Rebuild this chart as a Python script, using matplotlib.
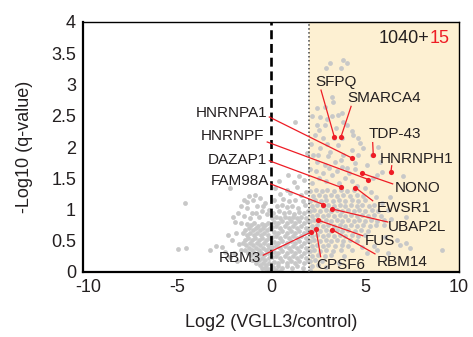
import matplotlib
matplotlib.use("Agg")
import matplotlib.pyplot as plt
from matplotlib.transforms import ScaledTranslation

plt.rcParams['font.family'] = ['Liberation Sans', 'DejaVu Sans']

TXT = '#231f20'
RED = '#ee1c25'

# grey cloud
cloud_left = [
    (-4.57, 1.10), (-4.93, 0.37), (-4.52, 0.38), (-3.24, 0.35), (-2.90, 0.41), (-2.62, 0.40),
    (-2.18, 1.34), (-2.00, 0.88), (-1.91, 0.80), (-1.75, 0.95), (-1.60, 1.05), (-1.45, 1.15),
    (-1.29, 1.12), (-1.30, 1.02), (-1.15, 1.22), (-1.00, 0.95), (-0.94, 1.15), (-0.85, 1.23),
    (-0.75, 1.05), (-0.59, 1.18), (-0.50, 0.98), (-0.41, 1.06), (-0.32, 1.10), (-0.22, 0.93),
    (-0.62, 0.88), (-1.12, 0.86), (-1.42, 0.90), (-0.10, 1.00), (-0.80, 0.95), (-1.60, 0.78),
    (-2.30, 0.60), (-2.10, 0.52), (-1.85, 0.62), (-2.45, 0.32), (-1.72, 0.45), (-2.20, 0.24),
    (-1.95, 0.30), (-1.60, 0.35), (-1.80, 0.18),
    (-1.28, 0.77), (-1.08, 0.75), (-0.88, 0.78), (-0.70, 0.74), (-0.50, 0.77), (-0.32, 0.75), (-0.14, 0.78),
    (-1.36, 0.68), (-1.18, 0.70), (-0.98, 0.67), (-0.80, 0.70), (-0.60, 0.68), (-0.42, 0.71), (-0.22, 0.68), (-0.06, 0.70),
    (-1.48, 0.62), (-1.30, 0.60), (-1.10, 0.62), (-0.92, 0.59), (-0.74, 0.62), (-0.55, 0.60), (-0.36, 0.63), (-0.16, 0.60),
    (-1.40, 0.52), (-1.22, 0.54), (-1.03, 0.52), (-0.84, 0.55), (-0.66, 0.52), (-0.46, 0.54), (-0.27, 0.51), (-0.08, 0.54),
    (-1.50, 0.46), (-1.32, 0.44), (-1.14, 0.46), (-0.95, 0.43), (-0.76, 0.46), (-0.56, 0.44), (-0.37, 0.47), (-0.18, 0.44),
    (-1.36, 0.36), (-1.18, 0.38), (-1.00, 0.36), (-0.82, 0.39), (-0.64, 0.36), (-0.45, 0.38), (-0.27, 0.35), (-0.10, 0.38),
    (-1.24, 0.30), (-1.06, 0.28), (-0.88, 0.30), (-0.70, 0.27), (-0.52, 0.30), (-0.35, 0.28), (-0.18, 0.31),
    (-1.02, 0.20), (-0.84, 0.22), (-0.66, 0.20), (-0.48, 0.23), (-0.30, 0.20), (-0.12, 0.22),
    (-0.78, 0.14), (-0.60, 0.12), (-0.42, 0.14), (-0.25, 0.11), (-0.08, 0.14),
    (-0.48, 0.06), (-0.30, 0.07), (-0.14, 0.05), (-0.04, 0.02),
]

cloud_mid = [
    (0.90, 1.56), (1.50, 1.54), (0.40, 1.46), (1.20, 1.44), (1.75, 1.47), (0.20, 1.35), (0.83, 1.31),
    (1.40, 1.36), (0.50, 1.25), (1.00, 1.27), (1.60, 1.24), (1.85, 1.28), (0.15, 1.15), (0.65, 1.17),
    (0.95, 1.13), (1.30, 1.16), (1.70, 1.14), (0.30, 1.05), (0.60, 1.07), (0.85, 1.04), (1.10, 1.06),
    (1.45, 1.03), (1.80, 1.07), (0.10, 0.95), (0.40, 0.97), (0.70, 0.94), (0.95, 0.96), (1.20, 0.93),
    (1.50, 0.96), (1.75, 0.94), (1.95, 0.97), (1.90, 1.90), (1.28, 2.40),
    (0.05, 0.87), (0.27, 0.88), (0.50, 0.86), (0.72, 0.88), (0.95, 0.86), (1.17, 0.88), (1.40, 0.86), (1.62, 0.88), (1.85, 0.86),
    (0.16, 0.80), (0.38, 0.79), (0.60, 0.81), (0.83, 0.79), (1.06, 0.81), (1.28, 0.79), (1.50, 0.81), (1.73, 0.79), (1.95, 0.81),
    (0.05, 0.72), (0.27, 0.73), (0.50, 0.71), (0.72, 0.73), (0.95, 0.71), (1.17, 0.73), (1.40, 0.71), (1.62, 0.73), (1.85, 0.71),
    (0.16, 0.64), (0.38, 0.63), (0.60, 0.65), (0.83, 0.63), (1.06, 0.65), (1.28, 0.63), (1.50, 0.65), (1.73, 0.63), (1.95, 0.65),
    (0.05, 0.56), (0.27, 0.57), (0.50, 0.55), (0.72, 0.57), (0.95, 0.55), (1.17, 0.57), (1.40, 0.55), (1.62, 0.57), (1.85, 0.55),
    (0.16, 0.48), (0.38, 0.47), (0.60, 0.49), (0.83, 0.47), (1.06, 0.49), (1.28, 0.47), (1.50, 0.49), (1.73, 0.47), (1.95, 0.49),
    (0.05, 0.40), (0.27, 0.41), (0.50, 0.39), (0.72, 0.41), (0.95, 0.39), (1.17, 0.41), (1.40, 0.39), (1.62, 0.41), (1.85, 0.39),
    (0.16, 0.32), (0.38, 0.31), (0.60, 0.33), (0.83, 0.31), (1.06, 0.33), (1.28, 0.31), (1.50, 0.33), (1.73, 0.31), (1.95, 0.33),
    (0.05, 0.24), (0.27, 0.25), (0.50, 0.23), (0.72, 0.25), (0.95, 0.23), (1.17, 0.25), (1.40, 0.23), (1.62, 0.25), (1.85, 0.23),
    (0.16, 0.16), (0.38, 0.15), (0.60, 0.17), (0.83, 0.15), (1.06, 0.17), (1.28, 0.15), (1.50, 0.17), (1.73, 0.15), (1.95, 0.17),
    (0.10, 0.08), (0.35, 0.09), (0.60, 0.07), (0.85, 0.09), (1.10, 0.07), (1.40, 0.09), (1.70, 0.07),
    (0.05, 0.02), (0.25, 0.03), (0.50, 0.02),
]

cloud_right = [
    (2.10, 1.30), (2.40, 1.31), (2.70, 1.29), (3.00, 1.31), (3.35, 1.29), (3.70, 1.31), (4.05, 1.29), (4.40, 1.31),
    (2.25, 1.22), (2.55, 1.23), (2.85, 1.21), (3.20, 1.23), (3.50, 1.21), (3.85, 1.23), (4.20, 1.21), (4.60, 1.23), (4.90, 1.21),
    (2.05, 1.14), (2.35, 1.15), (2.65, 1.13), (2.95, 1.15), (3.30, 1.13), (3.60, 1.15), (3.95, 1.13), (4.30, 1.15), (4.65, 1.13), (5.00, 1.15),
    (2.20, 1.06), (2.45, 1.07), (2.75, 1.05), (3.05, 1.07), (3.35, 1.05), (3.65, 1.07), (3.95, 1.05), (4.25, 1.07),
    (4.55, 1.05), (4.85, 1.07), (5.20, 1.05), (5.50, 1.07),
    (2.05, 0.98), (2.30, 0.99), (2.60, 0.97), (2.90, 0.99), (3.20, 0.97), (3.50, 0.99), (3.80, 0.97), (4.10, 0.99),
    (4.40, 0.97), (4.70, 0.99), (5.00, 0.97), (5.35, 0.99), (5.70, 0.97),
    (2.20, 0.90), (2.45, 0.91), (2.75, 0.89), (3.05, 0.91), (3.35, 0.89), (3.65, 0.91), (3.95, 0.89), (4.25, 0.91),
    (4.55, 0.89), (4.85, 0.91), (5.15, 0.89), (5.50, 0.91), (5.85, 0.89),
    (2.05, 0.82), (2.30, 0.83), (2.60, 0.81), (2.90, 0.83), (3.20, 0.81), (3.50, 0.83), (3.80, 0.81), (4.10, 0.83),
    (4.40, 0.81), (4.70, 0.83), (5.00, 0.81), (5.30, 0.83), (5.65, 0.81), (6.00, 0.83),
    (2.20, 0.74), (2.45, 0.75), (2.75, 0.73), (3.05, 0.75), (3.35, 0.73), (3.65, 0.75), (3.95, 0.73), (4.25, 0.75),
    (4.55, 0.73), (4.90, 0.75), (5.25, 0.73), (5.60, 0.75),
    (2.05, 0.66), (2.30, 0.67), (2.60, 0.65), (2.90, 0.67), (3.20, 0.65), (3.50, 0.67), (3.80, 0.65), (4.10, 0.67),
    (4.45, 0.65), (4.80, 0.67), (5.15, 0.65),
    (2.20, 0.58), (2.45, 0.59), (2.75, 0.57), (3.05, 0.59), (3.35, 0.57), (3.65, 0.59), (3.95, 0.57), (4.30, 0.59),
    (4.65, 0.57), (5.00, 0.59),
    (2.05, 0.50), (2.30, 0.51), (2.60, 0.49), (2.90, 0.51), (3.20, 0.49), (3.50, 0.51), (3.85, 0.49), (4.20, 0.51), (4.55, 0.49),
    (2.20, 0.42), (2.45, 0.43), (2.75, 0.41), (3.05, 0.43), (3.40, 0.41), (3.75, 0.43), (4.10, 0.41),
    (2.05, 0.34), (2.30, 0.35), (2.60, 0.33), (2.95, 0.35), (3.30, 0.33), (3.70, 0.35),
    (2.20, 0.26), (2.50, 0.27), (2.85, 0.25), (3.20, 0.27),
    (2.05, 0.18), (2.35, 0.19), (2.70, 0.17),
    (2.20, 0.10), (2.50, 0.11), (2.10, 0.04),
]

cloud_upper = [
    (3.81, 3.40), (3.14, 3.35), (4.03, 3.34), (2.93, 3.26), (3.72, 3.26),
    (3.23, 2.80), (3.32, 2.72), (2.43, 2.62), (2.87, 2.64), (3.58, 2.51), (2.43, 2.35), (4.03, 2.35),
    (4.29, 2.25), (2.87, 2.35), (3.23, 2.50), (3.76, 2.54), (3.85, 2.40), (2.34, 2.19), (2.78, 2.14),
    (4.65, 2.14), (4.91, 1.98), (5.36, 1.87), (2.61, 1.98), (3.14, 1.92), (3.58, 2.03), (3.85, 1.87),
    (4.65, 1.87), (5.09, 1.71), (5.80, 1.76), (2.43, 1.76), (2.87, 1.71), (3.40, 1.76), (4.03, 1.66),
    (2.25, 1.87), (4.38, 2.19), (4.73, 2.06), (5.71, 2.00), (5.89, 1.60), (5.62, 1.55), (7.00, 1.53),
    (6.33, 1.20), (7.20, 0.88), (6.86, 0.43), (6.06, 0.56), (9.08, 0.36), (7.40, 0.38), (7.20, 0.46),
    (6.69, 0.51), (5.62, 0.35), (5.09, 0.30),
    (2.20, 1.42), (2.55, 1.50), (2.90, 1.45), (3.25, 1.55), (3.60, 1.42), (3.95, 1.50), (4.30, 1.45),
    (4.60, 1.38), (2.40, 1.62), (2.75, 1.58), (3.10, 1.66), (3.50, 1.62), (3.80, 1.68), (4.15, 1.58),
    (4.45, 1.65), (5.00, 1.35), (5.30, 1.28), (5.60, 1.20), (5.90, 1.10), (6.20, 1.00), (5.45, 1.50),
    (6.00, 0.75), (6.40, 0.85), (5.50, 0.42), (6.20, 0.30), (4.85, 0.40), (3.90, 0.25), (4.30, 0.35),
    (3.60, 0.15), (2.90, 0.08), (2.15, 2.05), (2.55, 2.28), (3.00, 2.45), (3.45, 2.30), (3.00, 2.05),
    (3.35, 2.15), (3.75, 2.15), (2.60, 2.48), (2.20, 2.50), (3.05, 1.85), (2.50, 1.88), (3.70, 1.80),
    (4.30, 1.95), (4.45, 1.75), (2.05, 1.65),
]

# highlighted proteins
genes = ['SFPQ', 'SMARCA4', 'HNRNPA1', 'HNRNPF', 'DAZAP1', 'FAM98A', 'RBM3', 'TDP-43',
         'HNRNPH1', 'NONO', 'EWSR1', 'UBAP2L', 'FUS', 'RBM14', 'CPSF6']
gene_fc = [3.37, 3.72, 4.33, 5.18, 3.72, 2.78, 2.11, 5.44, 6.38, 4.84, 4.49, 3.23, 2.50, 3.23, 2.39]
gene_q = [2.16, 2.16, 1.82, 1.48, 1.355, 1.08, 0.635, 1.87, 1.60, 1.58, 1.35, 1.01, 0.83, 0.68, 0.69]

# label placement (text anchor and where the leader line starts)
lab_x = [2.34, 4.08, -0.20, -0.37, -0.20, -0.10, -0.55, 5.18, 5.80, 6.60, 5.62, 6.24, 5.00, 5.62, 2.39]
lab_y = [3.04, 2.78, 2.54, 2.18, 1.79, 1.46, 0.22, 2.21, 1.81, 1.34, 1.02, 0.715, 0.50, 0.165, 0.11]
lead_x = [2.66, 4.26, -0.09, -0.20, -0.09, -0.02, -0.41, 5.41, 6.42, 6.47, 5.41, 6.21, 4.88, 5.53, 2.64]
lead_y = [2.91, 2.65, 2.48, 2.08, 1.78, 1.41, 0.27, 2.07, 1.70, 1.41, 1.14, 0.80, 0.58, 0.29, 0.245]
lab_ha = ['left', 'left', 'right', 'right', 'right', 'right', 'right', 'left',
          'left', 'left', 'left', 'left', 'left', 'left', 'left']

fig = plt.figure(figsize=(4.73, 3.37), dpi=100)
ax = fig.add_axes([83 / 473, 65 / 337, 376 / 473, 250 / 337])

ax.axvspan(2, 10, color='#fdf0d2', zorder=0, lw=0)

for cloud in [cloud_left, cloud_mid, cloud_right, cloud_upper]:
    xs = [p[0] for p in cloud]
    ys = [p[1] for p in cloud]
    ax.scatter(xs, ys, s=12, color='#c8c8c8', lw=0, zorder=2)

ax.axvline(0, color='black', lw=1.9, dashes=(3.4, 1.8), zorder=3)
ax.axvline(2, color='#444444', lw=1.1, ls=(0, (1, 1.6)), zorder=3)

for i in range(len(genes)):
    ax.plot([lead_x[i], gene_fc[i]], [lead_y[i], gene_q[i]], color=RED, lw=0.9, zorder=4)
    ax.text(lab_x[i], lab_y[i], genes[i], ha=lab_ha[i], va='center', fontsize=11, color=TXT, zorder=6)
ax.scatter(gene_fc, gene_q, s=14, color=RED, lw=0, zorder=5)

t15 = ax.text(9.5, 3.73, '15', ha='right', va='center', fontsize=13, color=RED)
ax.annotate('1040+', xy=(0, 0.5), xycoords=t15, ha='right', va='center', fontsize=13, color=TXT)

ax.set_xlim(-10, 10)
ax.set_ylim(0, 4)
xt = [-10, -5, 0, 5, 10]
yt = [0, 0.5, 1, 1.5, 2, 2.5, 3, 3.5, 4]
ax.set_xticks(xt)
ax.set_xticklabels([str(v) for v in xt])
ax.set_yticks(yt)
ax.set_yticklabels(['0', '0.5', '1', '1.5', '2', '2.5', '3', '3.5', '4'])
ax.tick_params(length=0, pad=5, labelsize=13, colors=TXT)

# the -10 label sits a little right of its tick in the reference
lbl = ax.get_xticklabels()[0]
lbl.set_transform(lbl.get_transform() + ScaledTranslation(5 / 100, 0, fig.dpi_scale_trans))

for side in ['left', 'bottom']:
    ax.spines[side].set_linewidth(1.6)
for side in ['top', 'right']:
    ax.spines[side].set_linewidth(1.0)

ax.set_xlabel('Log2 (VGLL3/control)', fontsize=13, color=TXT, labelpad=13)
ax.set_ylabel('-Log10 (q-value)', fontsize=13, color=TXT, labelpad=13)

fig.savefig('out.png', dpi=100)
